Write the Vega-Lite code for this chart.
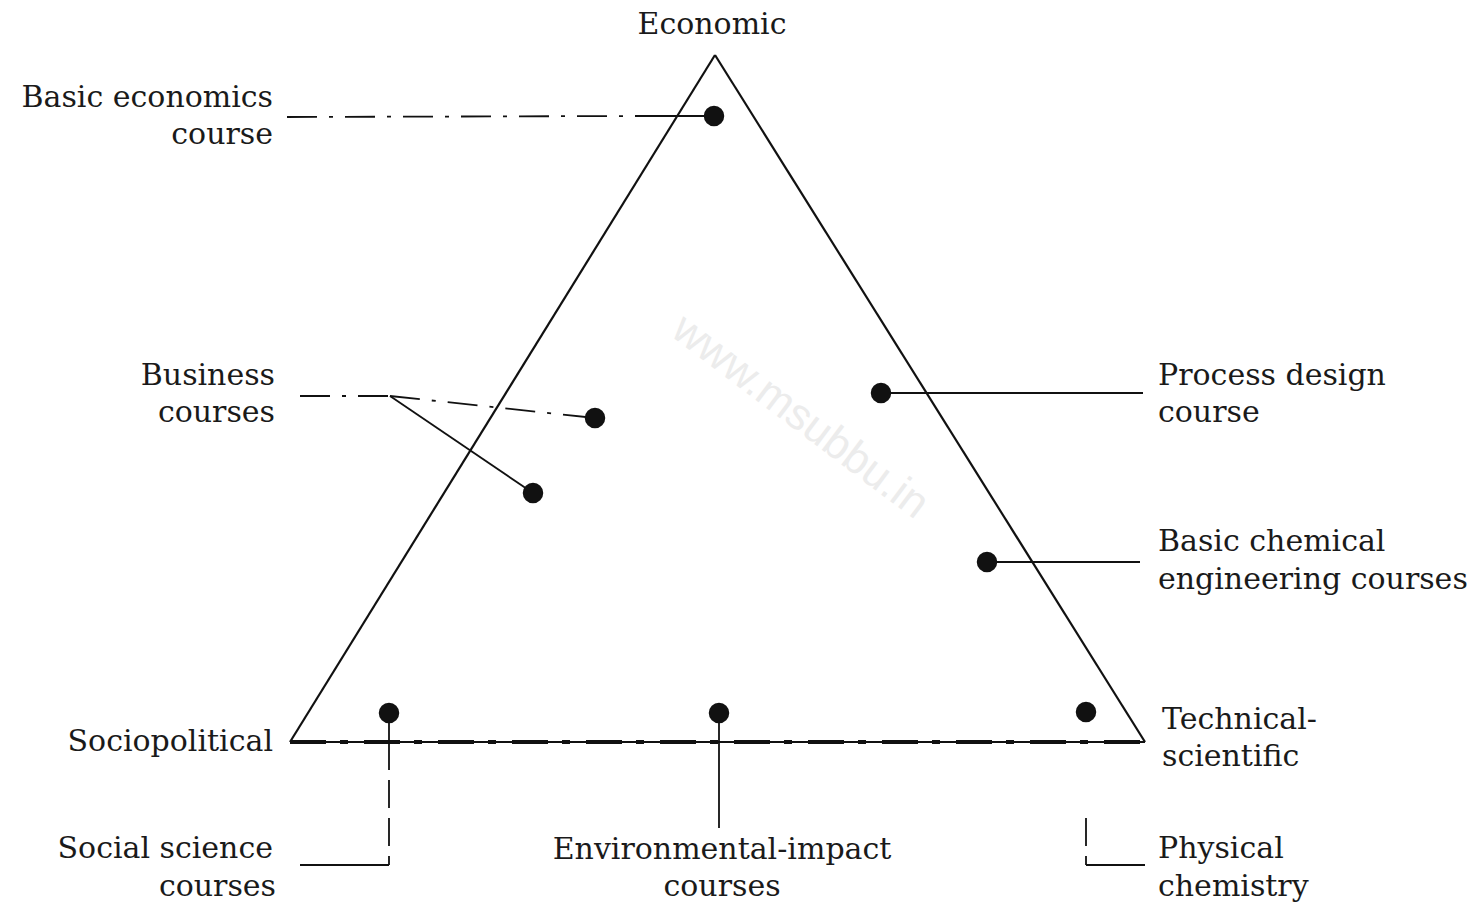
{
  "$schema": "https://vega.github.io/schema/vega-lite/v6.json",
  "width": 1472,
  "height": 903,
  "autosize": {"type": "fit", "contains": "padding"},
  "padding": 0,
  "background": "white",
  "config": {"view": {"stroke": null}},
  "datasets": {
    "triangle": [
      {"x": 715, "y": 55, "x2": 290, "y2": 742},
      {"x": 715, "y": 55, "x2": 1145, "y2": 742}
    ],
    "base": [
      {"x": 290, "y": 742, "x2": 1145, "y2": 742}
    ],
    "solidLeaders": [
      {"x": 640, "y": 116, "x2": 714, "y2": 116},
      {"x": 390, "y": 396, "x2": 533, "y2": 493},
      {"x": 881, "y": 393, "x2": 1143, "y2": 393},
      {"x": 987, "y": 562, "x2": 1140, "y2": 562},
      {"x": 389, "y": 865, "x2": 300, "y2": 865},
      {"x": 719, "y": 713, "x2": 719, "y2": 828},
      {"x": 389, "y": 713, "x2": 389, "y2": 742},
      {"x": 1086, "y": 865, "x2": 1145, "y2": 865}
    ],
    "dashedLeaders": [
      {"x": 287, "y": 117, "x2": 640, "y2": 116},
      {"x": 300, "y": 396, "x2": 390, "y2": 396},
      {"x": 390, "y": 396, "x2": 595, "y2": 418}
    ],
    "longDashed": [
      {"x": 389, "y": 742, "x2": 389, "y2": 865},
      {"x": 1086, "y": 818, "x2": 1086, "y2": 865}
    ],
    "dots": [
      {"x": 714, "y": 116},
      {"x": 595, "y": 418},
      {"x": 533, "y": 493},
      {"x": 881, "y": 393},
      {"x": 987, "y": 562},
      {"x": 389, "y": 713},
      {"x": 719, "y": 713},
      {"x": 1086, "y": 712}
    ],
    "labelsRight": [
      {"x": 273, "y": 98, "t": "Basic economics"},
      {"x": 273, "y": 135, "t": "course"},
      {"x": 275, "y": 376, "t": "Business"},
      {"x": 275, "y": 413, "t": "courses"},
      {"x": 273, "y": 742, "t": "Sociopolitical"},
      {"x": 273, "y": 849, "t": "Social science"},
      {"x": 276, "y": 887, "t": "courses"}
    ],
    "labelsLeft": [
      {"x": 1158, "y": 376, "t": "Process design"},
      {"x": 1158, "y": 413, "t": "course"},
      {"x": 1158, "y": 542, "t": "Basic chemical"},
      {"x": 1158, "y": 580, "t": "engineering courses"},
      {"x": 1162, "y": 720, "t": "Technical-"},
      {"x": 1162, "y": 757, "t": "scientific"},
      {"x": 1158, "y": 849, "t": "Physical"},
      {"x": 1158, "y": 887, "t": "chemistry"}
    ],
    "labelsCenter": [
      {"x": 712, "y": 25, "t": "Economic"},
      {"x": 722, "y": 850, "t": "Environmental-impact"},
      {"x": 722, "y": 887, "t": "courses"}
    ],
    "watermark": [
      {"x": 800, "y": 417, "t": "www.msubbu.in"}
    ]
  },
  "layer": [
    {
      "data": {"name": "watermark"},
      "mark": {"type": "text", "font": "Liberation Sans", "fontSize": 44, "angle": 37, "color": "#ececec", "align": "center", "baseline": "middle"},
      "encoding": {
        "x": {"field": "x", "type": "quantitative", "scale": {"domain": [0, 1472], "nice": false, "zero": false}, "axis": null},
        "y": {"field": "y", "type": "quantitative", "scale": {"domain": [0, 903], "nice": false, "zero": false, "reverse": true}, "axis": null},
        "text": {"field": "t"}
      }
    },
    {
      "data": {"name": "triangle"},
      "mark": {"type": "rule", "color": "#111", "strokeWidth": 2.2},
      "encoding": {
        "x": {"field": "x", "type": "quantitative"},
        "y": {"field": "y", "type": "quantitative"},
        "x2": {"field": "x2"},
        "y2": {"field": "y2"}
      }
    },
    {
      "data": {"name": "base"},
      "mark": {"type": "rule", "color": "#111", "strokeWidth": 2},
      "encoding": {
        "x": {"field": "x", "type": "quantitative"},
        "y": {"field": "y", "type": "quantitative"},
        "x2": {"field": "x2"},
        "y2": {"field": "y2"}
      }
    },
    {
      "data": {"name": "base"},
      "mark": {"type": "rule", "color": "#111", "strokeWidth": 4, "strokeDash": [36, 14, 8, 16]},
      "encoding": {
        "x": {"field": "x", "type": "quantitative"},
        "y": {"field": "y", "type": "quantitative"},
        "x2": {"field": "x2"},
        "y2": {"field": "y2"}
      }
    },
    {
      "data": {"name": "solidLeaders"},
      "mark": {"type": "rule", "color": "#111", "strokeWidth": 1.8},
      "encoding": {
        "x": {"field": "x", "type": "quantitative"},
        "y": {"field": "y", "type": "quantitative"},
        "x2": {"field": "x2"},
        "y2": {"field": "y2"}
      }
    },
    {
      "data": {"name": "dashedLeaders"},
      "mark": {"type": "rule", "color": "#111", "strokeWidth": 1.8, "strokeDash": [30, 12, 4, 12]},
      "encoding": {
        "x": {"field": "x", "type": "quantitative"},
        "y": {"field": "y", "type": "quantitative"},
        "x2": {"field": "x2"},
        "y2": {"field": "y2"}
      }
    },
    {
      "data": {"name": "longDashed"},
      "mark": {"type": "rule", "color": "#111", "strokeWidth": 1.8, "strokeDash": [28, 10]},
      "encoding": {
        "x": {"field": "x", "type": "quantitative"},
        "y": {"field": "y", "type": "quantitative"},
        "x2": {"field": "x2"},
        "y2": {"field": "y2"}
      }
    },
    {
      "data": {"name": "dots"},
      "mark": {"type": "point", "filled": true, "color": "#111", "opacity": 1, "size": 420},
      "encoding": {
        "x": {"field": "x", "type": "quantitative"},
        "y": {"field": "y", "type": "quantitative"}
      }
    },
    {
      "data": {"name": "labelsRight"},
      "mark": {"type": "text", "font": "DejaVu Serif", "fontSize": 30, "color": "#1a1a1a", "align": "right", "baseline": "middle"},
      "encoding": {
        "x": {"field": "x", "type": "quantitative"},
        "y": {"field": "y", "type": "quantitative"},
        "text": {"field": "t"}
      }
    },
    {
      "data": {"name": "labelsLeft"},
      "mark": {"type": "text", "font": "DejaVu Serif", "fontSize": 30, "color": "#1a1a1a", "align": "left", "baseline": "middle"},
      "encoding": {
        "x": {"field": "x", "type": "quantitative"},
        "y": {"field": "y", "type": "quantitative"},
        "text": {"field": "t"}
      }
    },
    {
      "data": {"name": "labelsCenter"},
      "mark": {"type": "text", "font": "DejaVu Serif", "fontSize": 30, "color": "#1a1a1a", "align": "center", "baseline": "middle"},
      "encoding": {
        "x": {"field": "x", "type": "quantitative"},
        "y": {"field": "y", "type": "quantitative"},
        "text": {"field": "t"}
      }
    }
  ]
}
